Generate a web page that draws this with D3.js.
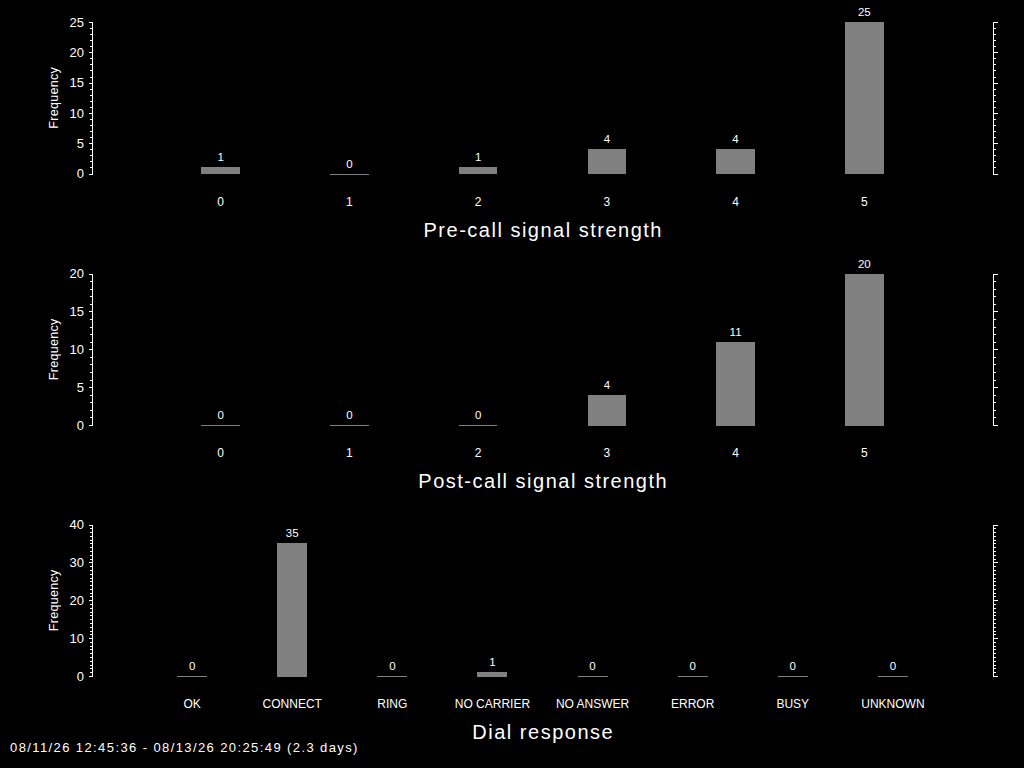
<!DOCTYPE html>
<html>
<head>
<meta charset="utf-8">
<script src="https://cdn.jsdelivr.net/npm/d3@7"></script>
<style>
  html, body { margin: 0; padding: 0; background: #000; }
  svg { display: block; }
  text { font-family: "Liberation Sans", Arial, sans-serif; fill: #fff; }
  .axis path, .axis line { stroke: #fff; shape-rendering: crispEdges; }
  .axis text { font-size: 13px; fill: #fff; font-family: "Liberation Sans", Arial, sans-serif; }
</style>
</head>
<body>
<svg id="hist-svg"></svg>
<script>
// data
const signalLevels = ["0", "1", "2", "3", "4", "5"];
const preCallCounts = [1, 0, 1, 4, 4, 25];
const postCallCounts = [0, 0, 0, 4, 11, 20];
const dialResponses = ["OK", "CONNECT", "RING", "NO CARRIER", "NO ANSWER", "ERROR", "BUSY", "UNKNOWN"];
const dialCounts = [0, 35, 0, 1, 0, 0, 0, 0];

const preCallTicks = [0, 5, 10, 15, 20, 25];
const postCallTicks = [0, 5, 10, 15, 20];
const dialTicks = [0, 10, 20, 30, 40];

const footerText = "08/11/26 12:45:36 - 08/13/26 20:25:49 (2.3 days)";

const width = 1024;
const height = 768;

let svg = d3.select("#hist-svg")
    .attr("width", width)
    .attr("height", height);

svg.append("rect")
    .attr("width", width)
    .attr("height", height)
    .attr("fill", "#000");

const left = 92;
const right = 993;
const panelHeight = 151.5;

function drawPanel(top, categories, counts, majorTicks, title)
{
    const yMax = majorTicks[majorTicks.length - 1];
    const y0 = top + panelHeight;

    const xScale = d3.scalePoint()
        .domain(categories)
        .range([left, right])
        .padding(1);

    const yScale = d3.scaleLinear()
        .domain([0, yMax])
        .range([y0, top]);

    const minorTicks = d3.range(0, yMax + 1, 1);

    // left axis, minor then major
    svg.append("g")
        .attr("class", "axis")
        .attr("transform", `translate(${left},0)`)
        .call(d3.axisLeft(yScale).tickValues(minorTicks).tickSize(2).tickSizeOuter(3).tickFormat(""));

    svg.append("g")
        .attr("class", "axis")
        .attr("transform", `translate(${left},0)`)
        .call(d3.axisLeft(yScale).tickValues(majorTicks).tickSize(3).tickSizeOuter(3).tickPadding(5).tickFormat(d3.format("d")))
        .call(g => g.select(".domain").remove());

    // right axis, no labels
    svg.append("g")
        .attr("class", "axis")
        .attr("transform", `translate(${right},0)`)
        .call(d3.axisRight(yScale).tickValues(minorTicks).tickSize(3).tickSizeOuter(5).tickFormat(""));

    svg.append("g")
        .attr("class", "axis")
        .attr("transform", `translate(${right},0)`)
        .call(d3.axisRight(yScale).tickValues(majorTicks).tickSize(5).tickFormat(""))
        .call(g => g.select(".domain").remove());

    svg.append("text")
        .attr("transform", `translate(58,${(top + y0) / 2}) rotate(-90)`)
        .attr("text-anchor", "middle")
        .style("font-size", "12.5px")
        .style("letter-spacing", "0.3px")
        .text("Frequency");

    const barWidth = xScale.step() * 0.3;
    const data = categories.map((c, i) => ({ cat: c, n: counts[i] }));

    svg.append("g")
        .selectAll("rect")
        .data(data)
        .enter().append("rect")
        .attr("x", d => xScale(d.cat) - barWidth / 2)
        .attr("y", d => yScale(d.n))
        .attr("width", barWidth)
        .attr("height", d => Math.max(1, y0 - yScale(d.n) + 0.5))
        .attr("fill", "#808080")
        .attr("shape-rendering", "crispEdges");

    // counts above bars
    svg.append("g")
        .selectAll("text")
        .data(data)
        .enter().append("text")
        .attr("x", d => xScale(d.cat))
        .attr("y", d => yScale(d.n) - 6)
        .attr("text-anchor", "middle")
        .style("font-size", "11.5px")
        .text(d => d.n);

    // category labels
    svg.append("g")
        .selectAll("text")
        .data(categories)
        .enter().append("text")
        .attr("x", d => xScale(d))
        .attr("y", y0 + 32)
        .attr("text-anchor", "middle")
        .style("font-size", "12px")
        .text(d => d);

    svg.append("text")
        .attr("x", (left + right) / 2 + 0.75)
        .attr("y", y0 + 63)
        .attr("text-anchor", "middle")
        .style("font-size", "20px")
        .style("letter-spacing", "1.5px")
        .text(title);
}

drawPanel(22, signalLevels, preCallCounts, preCallTicks, "Pre-call signal strength");
drawPanel(273.5, signalLevels, postCallCounts, postCallTicks, "Post-call signal strength");
drawPanel(524.5, dialResponses, dialCounts, dialTicks, "Dial response");

svg.append("text")
    .attr("x", 10)
    .attr("y", 752)
    .style("font-size", "13px")
    .style("letter-spacing", "1.4px")
    .text(footerText);
</script>
</body>
</html>
